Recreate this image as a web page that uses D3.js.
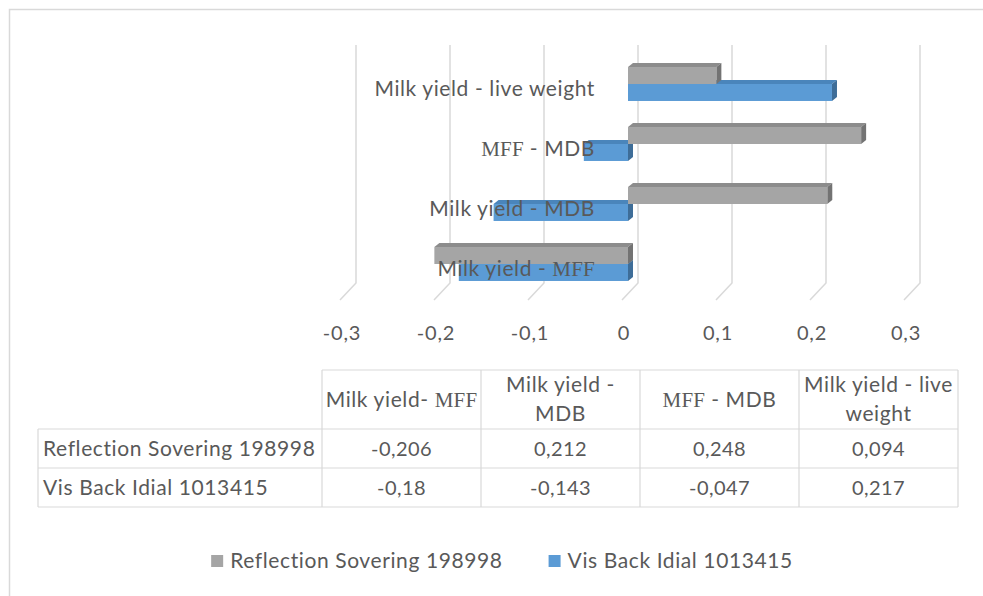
<!DOCTYPE html>
<html><head><meta charset="utf-8">
<script src="https://cdn.jsdelivr.net/npm/d3@7"></script>
<style>body{margin:0;background:#fff}svg{display:block}text{font-family:Lato,"Open Sans",sans-serif;fill:#595959}</style>
</head><body><svg id="c" width="983" height="596"></svg>
<script>
// ---- data ----
const categories = ["Milk yield - MFF", "Milk yield - MDB", "MFF - MDB", "Milk yield - live weight"];
const tableHeaders = ["Milk yield- MFF", "Milk yield -\nMDB", "MFF - MDB", "Milk yield - live\nweight"];
const seriesNames = ["Reflection Sovering 198998", "Vis Back Idial 1013415"];
const reflection = [-0.206, 0.212, 0.248, 0.094];
const visBack = [-0.18, -0.143, -0.047, 0.217];
const tickValues = [-0.3, -0.2, -0.1, 0, 0.1, 0.2, 0.3];
const tickLabels = ["-0,3", "-0,2", "-0,1", "0", "0,1", "0,2", "0,3"];

// ---- styles ----
const colors = [
  {front: "#a5a5a5", top: "#8c8c8c", side: "#737373"},
  {front: "#5b9bd5", top: "#4a85bb", side: "#3e6d98"}
];
const gridColor = "#d9d9d9";
const wordFont = {size: 21, ls: 0.6};
const numFont = {size: 20, ls: 0.4};
const tickFont = {size: 20, ls: 0.8};

const svg = d3.select("#c");
svg.append("rect").attr("width", 983).attr("height", 596).attr("fill", "#fff");
svg.append("rect").attr("x", 9.5).attr("y", 9.5).attr("width", 1000).attr("height", 700)
  .attr("fill", "none").attr("stroke", gridColor).attr("stroke-width", 1.5);

const x = d3.scaleLinear().domain([-0.3, 0.3]).range([342, 906]);
const y = d3.scaleBand().domain(categories.slice().reverse()).range([45, 285]);
const bw = y.bandwidth();
const depth = {gx: 14};          // gridline back-plane offset
const bd = {dx: 5, dy: -4};       // bar 3D depth
const barShift = 4;

function font(sel, f) { return sel.attr("font-size", f.size).attr("letter-spacing", f.ls); }

// gridlines
const g = svg.append("g");
tickValues.forEach(v => {
  const bx = x(v) + depth.gx;
  g.append("path")
    .attr("d", `M${bx},${y.range()[0]} L${bx},${y.range()[1] - 2} L${x(v) - 2},${y.range()[1] + 15}`)
    .attr("fill", "none").attr("stroke", gridColor).attr("stroke-width", 1.5);
});

// tick labels
font(svg.append("g").selectAll("text").data(tickValues).join("text")
  .attr("x", d => x(d)).attr("y", 340).attr("text-anchor", "middle"), tickFont)
  .text((d, i) => tickLabels[i]);

// bars
const series = [reflection, visBack];
const bars = svg.append("g");
function bar3d(v, top, h, c) {
  const xa = Math.min(x(0), x(v)) + barShift, xb = Math.max(x(0), x(v)) + barShift;
  const ya = top, yb = top + h;
  const gg = bars.append("g");
  gg.append("path").attr("d", `M${xa},${ya} L${xa + bd.dx},${ya + bd.dy} L${xb + bd.dx},${ya + bd.dy} L${xb},${ya} Z`).attr("fill", c.top);
  gg.append("path").attr("d", `M${xb},${ya} L${xb + bd.dx},${ya + bd.dy} L${xb + bd.dx},${yb + bd.dy} L${xb},${yb} Z`).attr("fill", c.side);
  gg.append("rect").attr("x", xa).attr("y", ya).attr("width", xb - xa).attr("height", h).attr("fill", c.front);
}
categories.forEach((cat, i) => {
  const top = y(cat) + bw * 0.367, h = bw * 0.283;
  bar3d(visBack[i], top + h, h, colors[1]);
  bar3d(reflection[i], top, h, colors[0]);
});

// rich text helper: "MFF" drawn in a serif face
function rich(sel, str) {
  str.split(/(MFF)/).filter(s => s.length).forEach(part => {
    const t = sel.append("tspan").text(part);
    if (part === "MFF") t.style("font-family", "'Liberation Serif','DejaVu Serif',serif").attr("letter-spacing", 0.2);
  });
}

// category labels
categories.forEach((cat, i) => {
  const cy = y(cat) + bw * 0.367 + bw * 0.283;
  const t = font(svg.append("text").attr("x", x(0) - 29).attr("y", cy + 12)
    .attr("text-anchor", "end"), wordFont);
  rich(t, cat);
});

// data table
const fmt = v => String(v).replace(".", ",");
const colX = [38, 322, 481, 640, 799, 958];
const rowY = [370, 429, 468, 507];
const tl = svg.append("g").attr("stroke", gridColor).attr("stroke-width", 1.2);
tl.append("line").attr("x1", colX[1]).attr("x2", colX[5]).attr("y1", rowY[0]).attr("y2", rowY[0]);
[1, 2, 3].forEach(r => tl.append("line").attr("x1", colX[0]).attr("x2", colX[5]).attr("y1", rowY[r]).attr("y2", rowY[r]));
colX.forEach((cx, i) => tl.append("line").attr("x1", cx).attr("x2", cx)
  .attr("y1", i === 0 ? rowY[1] : rowY[0]).attr("y2", rowY[3]));

tableHeaders.forEach((h, i) => {
  const lines = h.split("\n");
  const cx = (colX[i + 1] + colX[i + 2]) / 2;
  const cy = (rowY[0] + rowY[1]) / 2;
  lines.forEach((ln, k) => {
    const t = font(svg.append("text").attr("x", cx)
      .attr("y", cy + 7 + (k - (lines.length - 1) / 2) * 29)
      .attr("text-anchor", "middle"), wordFont);
    rich(t, ln);
  });
});
series.forEach((s, r) => {
  const cy = (rowY[r + 1] + rowY[r + 2]) / 2 + 7;
  font(svg.append("text").attr("x", 43).attr("y", cy), wordFont).text(seriesNames[r]);
  s.forEach((v, i) => {
    font(svg.append("text").attr("x", (colX[i + 1] + colX[i + 2]) / 2).attr("y", cy)
      .attr("text-anchor", "middle"), numFont).text(fmt(v));
  });
});

// legend
const lg = svg.append("g");
let lx = 0;
seriesNames.forEach((n, i) => {
  const it = lg.append("g").attr("transform", `translate(${lx},0)`);
  it.append("rect").attr("x", 0).attr("y", -13).attr("width", 12).attr("height", 12).attr("fill", colors[i].front);
  const t = font(it.append("text").attr("x", 19).attr("y", 0), wordFont).text(n);
  lx += 19 + t.node().getComputedTextLength() + 46;
});
const lw = lx - 46;
lg.attr("transform", `translate(${502 - lw / 2},568)`);
</script></body></html>
